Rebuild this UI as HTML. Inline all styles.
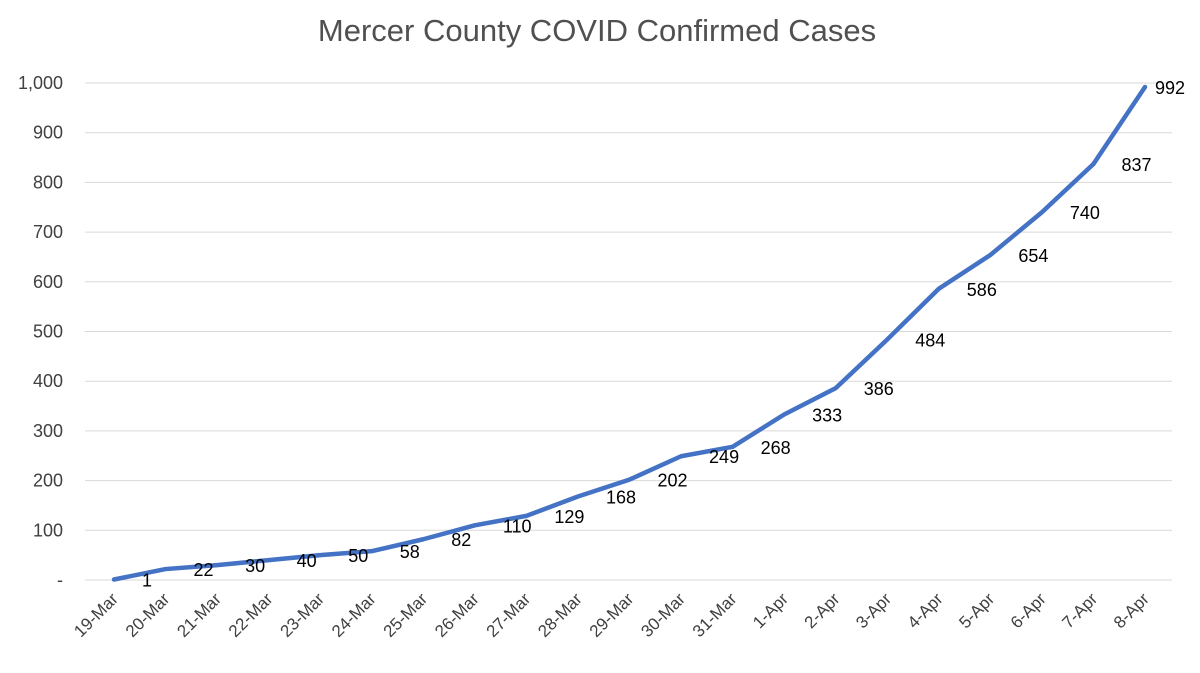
<!DOCTYPE html>
<html><head><meta charset="utf-8"><style>
html,body{margin:0;padding:0;background:#fff;}
svg{display:block;font-family:"Liberation Sans",sans-serif;}
</style></head><body>
<svg id="chart" width="1200" height="673">
<text x="597" y="41" text-anchor="middle" font-size="31" fill="#505050">Mercer County COVID Confirmed Cases</text>
<g id="grid"></g>
<g id="yticks"></g>
<g id="xticks"></g>
<g id="series"></g>
</svg>
<script>
const categories=["19-Mar","20-Mar","21-Mar","22-Mar","23-Mar","24-Mar","25-Mar","26-Mar","27-Mar","28-Mar","29-Mar","30-Mar","31-Mar","1-Apr","2-Apr","3-Apr","4-Apr","5-Apr","6-Apr","7-Apr","8-Apr"];
const cases=[1,22,30,40,50,58,82,110,129,168,202,249,268,333,386,484,586,654,740,837,992];
const yTicks=[0,100,200,300,400,500,600,700,800,900,1000];
const yTickLabels=["-","100","200","300","400","500","600","700","800","900","1,000"];
const NS="http://www.w3.org/2000/svg";
const x0=114,x1=1145,yb=580,yt=83;
const xs=i=>x0+i*(x1-x0)/(categories.length-1);
const ys=v=>yb-v*(yb-yt)/1000;
function mk(t,a,p){const e=document.createElementNS(NS,t);for(const k in a)e.setAttribute(k,a[k]);p.appendChild(e);return e;}
const grid=document.getElementById('grid'),yg=document.getElementById('yticks'),xg=document.getElementById('xticks'),sg=document.getElementById('series');
yTicks.forEach((v,i)=>{
 const l=mk('line',{x1:85,x2:1172,y1:ys(v),y2:ys(v),stroke:'#d9d9d9','stroke-width':1},grid);
 
 
 const t=mk('text',{x:63,y:ys(v)+6,'text-anchor':'end','font-size':18,fill:'#404040'},yg);
 t.textContent=yTickLabels[i];
 
 
});
categories.forEach((c,i)=>{
 const x=xs(i)+5,y=600;
 const t=mk('text',{x:x,y:y,'text-anchor':'end','font-size':17,fill:'#404040',transform:`rotate(-45 ${x} ${y})`},xg);
 t.textContent=c;
 
 
});
const pts=cases.map((v,i)=>xs(i)+','+ys(v)).join(' ');
const pl=mk('polyline',{points:pts,fill:'none',stroke:'#4472C4','stroke-width':4.5,'stroke-linejoin':'round','stroke-linecap':'round'},sg);


cases.forEach((v,i)=>{
 const last=i===cases.length-1;
 const t=mk('text',{x:xs(i)+(last?10:28),y:ys(v)+7,'font-size':18,fill:'#000'},sg);
 t.textContent=v;
 
 
});
</script>
</body></html>
